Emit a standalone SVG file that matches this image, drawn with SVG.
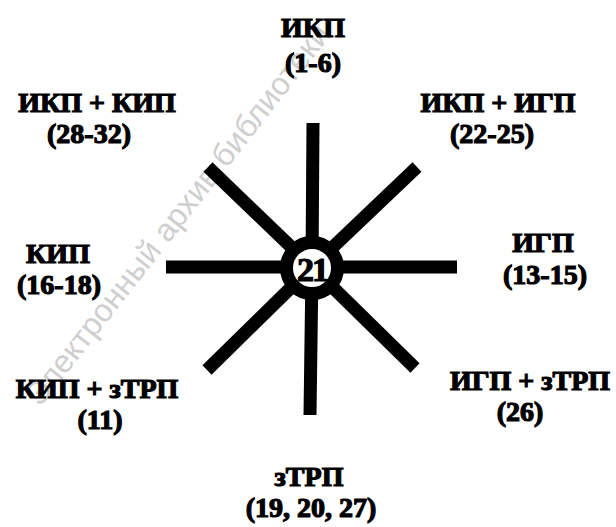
<svg xmlns="http://www.w3.org/2000/svg" width="616" height="527" viewBox="0 0 616 527">
<style>
.lbl{font-family:"Liberation Serif","Times New Roman",serif;font-weight:bold;font-size:28px;text-anchor:middle;fill:#000;stroke:#000;stroke-width:1.2px}
.wm{font-family:"Liberation Sans",Arial,sans-serif;font-size:32px;fill:#cfcfcf}
.ray{stroke:#000;stroke-width:13;stroke-linecap:butt}
</style>
<rect width="616" height="527" fill="#fff"/>
<text class="wm" transform="translate(40,408) rotate(-52)">Электронный архив библиотеки</text>
<g id="connectors">
<line class="ray" x1="313" y1="123" x2="312" y2="267"/>
<line class="ray" x1="312" y1="267" x2="310" y2="415"/>
<line class="ray" x1="166" y1="267" x2="312" y2="267"/>
<line class="ray" x1="312" y1="267" x2="457" y2="267"/>
<line class="ray" x1="208" y1="167" x2="312" y2="267"/>
<line class="ray" x1="417" y1="167" x2="312" y2="267"/>
<line class="ray" x1="207" y1="370" x2="312" y2="267"/>
<line class="ray" x1="415" y1="368" x2="312" y2="267"/>
</g>
<g id="center">
<circle cx="312" cy="268" r="25.5" fill="#fff" stroke="#000" stroke-width="13"/>
<text class="lbl" x="312" y="281" style="font-size:34px;letter-spacing:-2px">21</text>
</g>
<g id="n-ikp"><text class="lbl" x="313" y="37">ИКП</text><text class="lbl" x="313" y="72">(1-6)</text></g>
<g id="n-ikp-kip"><text class="lbl" x="97" y="112">ИКП + КИП</text><text class="lbl" x="89" y="143">(28-32)</text></g>
<g id="n-ikp-igp"><text class="lbl" x="498" y="112">ИКП + ИГП</text><text class="lbl" x="492" y="143">(22-25)</text></g>
<g id="n-kip"><text class="lbl" x="58" y="263">КИП</text><text class="lbl" x="59" y="294">(16-18)</text></g>
<g id="n-igp"><text class="lbl" x="543" y="252">ИГП</text><text class="lbl" x="545" y="284">(13-15)</text></g>
<g id="n-kip-ztrp"><text class="lbl" x="97" y="398">КИП + зТРП</text><text class="lbl" x="100" y="429">(11)</text></g>
<g id="n-igp-ztrp"><text class="lbl" x="530" y="390">ИГП + зТРП</text><text class="lbl" x="520" y="421">(26)</text></g>
<g id="n-ztrp"><text class="lbl" x="309" y="486">зТРП</text><text class="lbl" x="311" y="517">(19, 20, 27)</text></g>
</svg>
